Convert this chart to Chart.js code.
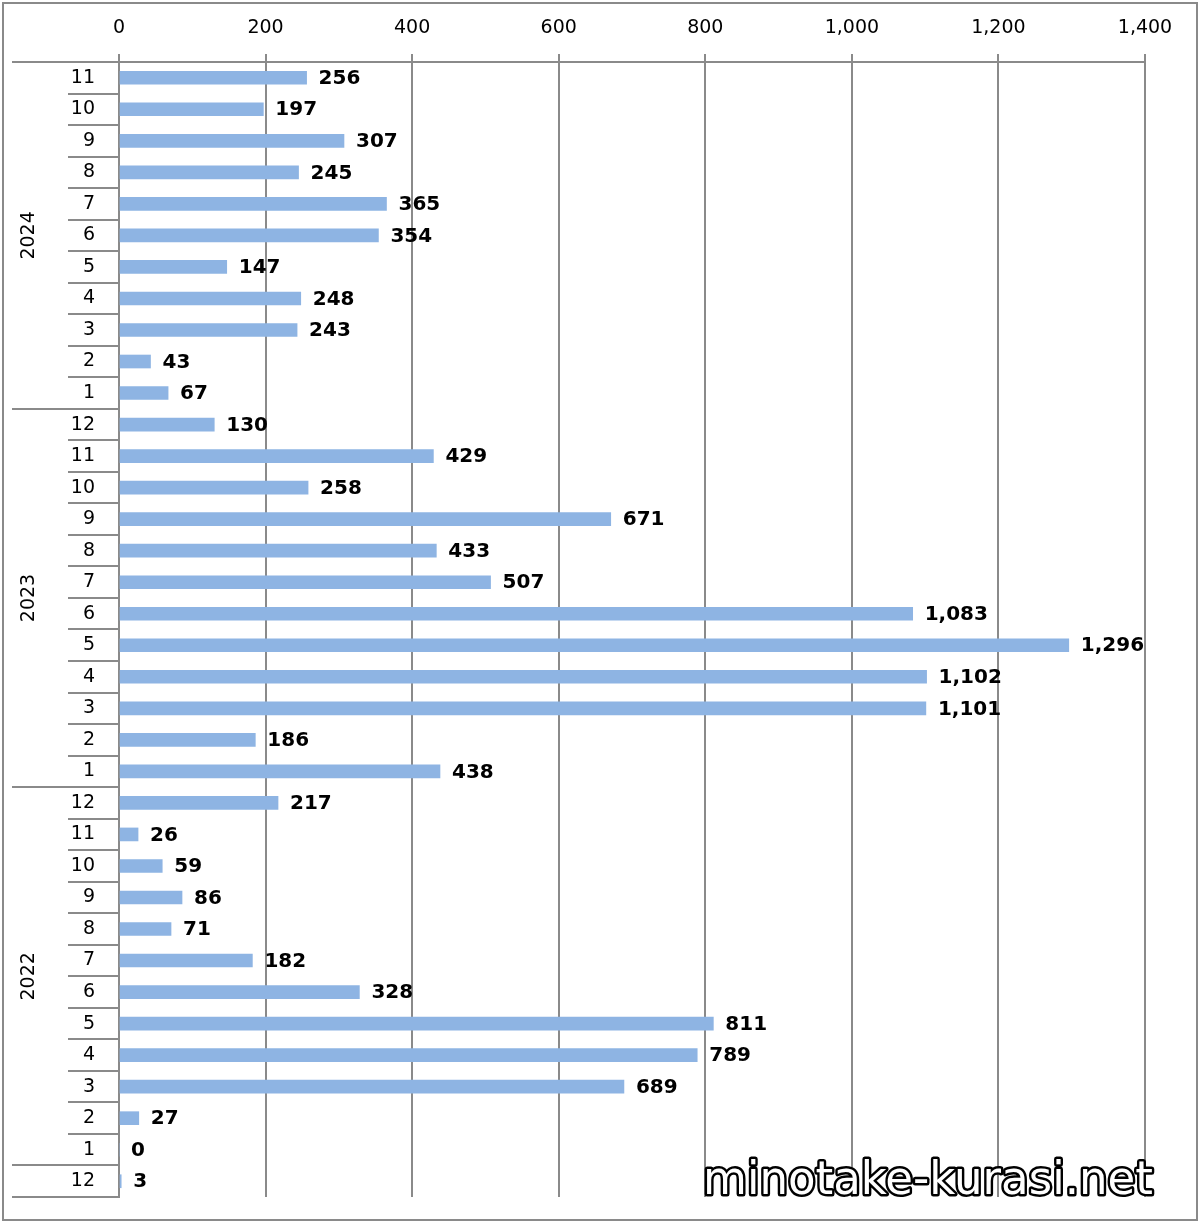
<!DOCTYPE html>
<html>
<head>
<meta charset="utf-8">
<script src="https://cdn.jsdelivr.net/npm/chart.js@4"></script>
<style>
  html, body { margin: 0; padding: 0; background: #fff; }
  #wrap { width: 1200px; height: 1222px; }
</style>
</head>
<body>
<div id="wrap"><canvas id="chart" width="1200" height="1222"></canvas></div>
<script>
// data, top row first
const months = ['11', '10', '9', '8', '7', '6', '5', '4', '3', '2', '1',
  '12', '11', '10', '9', '8', '7', '6', '5', '4', '3', '2', '1',
  '12', '11', '10', '9', '8', '7', '6', '5', '4', '3', '2', '1',
  '12'];
const values = [256, 197, 307, 245, 365, 354, 147, 248, 243, 43, 67,
  130, 429, 258, 671, 433, 507, 1083, 1296, 1102, 1101, 186, 438,
  217, 26, 59, 86, 71, 182, 328, 811, 789, 689, 27, 0,
  3];
const yearLabels = ['2024', '2023', '2022', ''];
const yearSizes = [11, 12, 12, 1];
const xTicks = [0, 200, 400, 600, 800, 1000, 1200, 1400];

const LINE = '#8a8a8a';
const FONT = "'DejaVu Sans', Verdana, sans-serif";
const fmt = v => v.toLocaleString('en-US');

// frame + white background
const framePlugin = {
  id: 'frame',
  beforeDraw(chart) {
    const ctx = chart.ctx;
    ctx.save();
    ctx.fillStyle = '#fff';
    ctx.fillRect(0, 0, chart.width, chart.height);
    ctx.strokeStyle = LINE;
    ctx.lineWidth = 2;
    ctx.strokeRect(3, 3, chart.width - 6, chart.height - 5);
    ctx.restore();
  }
};

// month separators, year separators and year labels
const groupAxisPlugin = {
  id: 'groupAxis',
  afterDraw(chart) {
    const ctx = chart.ctx;
    const y = chart.scales.y;
    const left = chart.chartArea.left;
    const step = y.getPixelForValue(1) - y.getPixelForValue(0);
    const edge = i => y.getPixelForValue(i) - step / 2;
    const yearStarts = [0];
    yearSizes.forEach((n, i) => yearStarts.push(yearStarts[i] + n));

    ctx.save();
    ctx.strokeStyle = LINE;
    ctx.lineWidth = 2;
    for (let i = 0; i <= months.length; i++) {
      const py = Math.round(edge(i));
      const x0 = yearStarts.includes(i) ? 12 : 68;
      ctx.beginPath();
      ctx.moveTo(x0, py);
      ctx.lineTo(left, py);
      ctx.stroke();
    }

    ctx.fillStyle = '#000';
    ctx.font = '19px ' + FONT;
    ctx.textAlign = 'center';
    ctx.textBaseline = 'middle';
    yearLabels.forEach((label, i) => {
      if (!label) return;
      const cy = (edge(yearStarts[i]) + edge(yearStarts[i + 1])) / 2;
      ctx.save();
      ctx.translate(29, cy);
      ctx.rotate(-Math.PI / 2);
      ctx.fillText(label, 0, 0);
      ctx.restore();
    });
    ctx.restore();
  }
};

// bold value labels at bar ends
const valueLabelPlugin = {
  id: 'valueLabels',
  afterDatasetsDraw(chart) {
    const ctx = chart.ctx;
    const meta = chart.getDatasetMeta(0);
    ctx.save();
    ctx.fillStyle = '#000';
    ctx.font = 'bold 20px ' + FONT;
    ctx.textAlign = 'left';
    ctx.textBaseline = 'middle';
    meta.data.forEach((bar, i) => {
      ctx.fillText(fmt(values[i]), bar.x + 12, bar.y + 1);
    });
    ctx.restore();
  }
};

// outlined site mark
const watermarkPlugin = {
  id: 'watermark',
  afterDraw(chart) {
    const ctx = chart.ctx;
    const text = 'minotake-kurasi.net';
    ctx.save();
    ctx.font = "46px 'DejaVu Sans', sans-serif";
    ctx.textAlign = 'left';
    ctx.textBaseline = 'alphabetic';
    ctx.lineJoin = 'round';
    ctx.lineWidth = 5;
    ctx.strokeStyle = '#000';
    ctx.strokeText(text, 703, 1194, 450);
    ctx.fillStyle = '#fff';
    ctx.fillText(text, 703, 1194, 450);
    ctx.restore();
  }
};

new Chart(document.getElementById('chart').getContext('2d'), {
  type: 'bar',
  data: {
    labels: months,
    datasets: [{
      data: values,
      backgroundColor: '#8eb4e3',
      borderWidth: 0,
      barThickness: 13
    }]
  },
  options: {
    indexAxis: 'y',
    responsive: false,
    animation: false,
    layout: { padding: { left: 0, right: 55, top: 0, bottom: 25 } },
    plugins: {
      legend: { display: false },
      tooltip: { enabled: false }
    },
    scales: {
      x: {
        position: 'top',
        min: 0,
        max: 1400,
        afterBuildTicks: s => { s.ticks = xTicks.map(v => ({ value: v })); },
        afterFit: s => { s.height = 62; },
        ticks: {
          color: '#000',
          font: { family: FONT, size: 19 },
          padding: 15,
          callback: v => fmt(v),
          maxRotation: 0
        },
        grid: { color: LINE, lineWidth: 2, tickLength: 8 },
        border: { color: LINE, width: 2 }
      },
      y: {
        afterFit: s => {
          s.width = 119;
          s.paddingTop = 0;
          s.paddingBottom = 0;
        },
        ticks: {
          color: '#000',
          font: { family: FONT, size: 19 },
          padding: 24,
          autoSkip: false
        },
        grid: { display: false, drawTicks: false },
        border: { color: LINE, width: 2 }
      }
    }
  },
  plugins: [framePlugin, groupAxisPlugin, valueLabelPlugin, watermarkPlugin]
});
</script>
</body>
</html>
